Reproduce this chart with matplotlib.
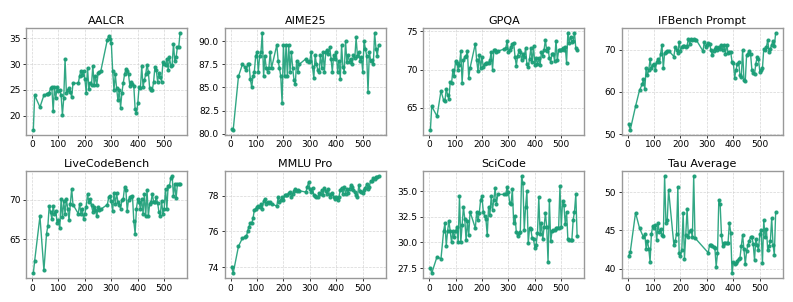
import matplotlib
matplotlib.use("Agg")
import matplotlib.pyplot as plt

# checkpoint steps (same for every benchmark except Tau)
steps = [5, 10, 30, 45, 55, 60, 65, 70, 75, 80, 85, 90, 95, 100, 105, 110, 115, 120, 125, 130, 135, 140, 145, 150, 155,
         175, 180, 185, 190, 195, 200, 205, 210, 215, 220, 225, 230, 235, 240, 245, 250, 255, 260,
         285, 290, 295, 300, 305, 310, 315, 320, 325, 330, 335, 340, 345, 350, 355, 360, 365, 370, 375, 380,
         385, 390, 395, 400, 405, 410, 415, 420, 425, 430, 435, 440, 445, 450, 455, 460, 465, 470, 475, 480,
         485, 490, 495, 500, 505, 510, 515, 520, 525, 530, 535, 540, 545, 550, 555, 560]

tau_steps = [5, 10, 30, 45, 60, 65, 70, 75, 80, 85, 90, 95, 100, 105, 110, 115, 120, 125, 130, 135, 140, 145, 150, 155,
             175, 180, 185, 190, 195, 200, 205, 210, 215, 220, 225, 230, 235, 240, 245, 250, 255,
             305, 310, 315, 320, 325, 330, 335, 340, 345, 350, 355, 360, 365, 370, 375, 380, 385, 390, 395, 400,
             405, 410, 415, 420, 425, 430, 435, 440, 445, 450, 455, 460, 465, 470, 475, 480, 485, 490, 495, 500,
             505, 510, 515, 520, 525, 530, 535, 540, 545, 550, 555, 560]

aalcr = [17.3, 24.0, 21.7, 24.0, 24.2, 24.3, 24.5, 25.3, 25.5, 20.9, 25.6, 23.5, 25.6, 24.9, 25.0, 24.0, 20.2, 23.4,
         31.0, 24.5, 25.0, 25.3, 24.7, 23.6, 26.3,
         26.3, 27.7, 28.7, 27.9, 28.7, 27.1, 24.5, 29.3, 25.1, 26.4, 26.0, 29.7, 26.0, 27.7, 25.9, 28.3, 28.5, 28.6,
         34.7, 35.4, 34.9, 34.0, 28.7, 25.0, 28.0, 25.3, 23.0, 25.0,
         21.6, 24.5, 26.3, 28.0, 29.0, 28.6, 28.0, 25.8, 26.6, 26.2,
         25.8, 21.3, 20.5, 22.4, 25.6, 25.3, 29.6, 25.6, 26.9, 28.0,
         29.9, 28.5, 25.3, 25.0, 25.0, 26.6, 29.5, 28.9, 26.6, 28.2,
         27.5, 26.6, 30.3, 30.0, 29.8, 31.0, 28.9, 31.3, 29.6, 29.8,
         33.9, 30.6, 31.3, 33.3, 33.3, 36.0]

aime25 = [80.5, 80.4, 86.2, 87.5, 87.2, 86.9, 87.5, 87.5, 85.9, 85.0, 86.2, 86.7, 88.4, 88.8, 86.7, 88.4, 88.8, 90.9,
          86.2, 88.4, 87.1, 86.7, 87.1, 88.8, 87.1,
          89.6, 87.9, 87.1, 86.2, 83.3, 89.6, 86.2, 89.6, 86.2, 89.6, 86.7, 88.8, 87.1, 85.8, 85.4, 87.9, 86.7, 87.5,
          88.1, 87.9, 87.7, 87.9, 88.8, 87.2, 86.0, 88.5, 87.5, 86.9,
          86.7, 88.5, 87.1, 88.8, 86.7, 88.8, 89.1, 88.6, 89.4, 88.1,
          86.7, 88.5, 88.1, 88.8, 86.7, 87.9, 85.9, 89.6, 87.2, 86.7,
          90.0, 87.7, 88.5, 87.7, 88.1, 87.5, 88.5, 88.2, 90.4, 88.4,
          88.8, 87.9, 88.3, 86.7, 90.0, 89.2, 88.4, 84.5, 88.8, 87.9,
          88.0, 87.5, 90.9, 89.2, 88.4, 89.6]

gpqa = [62.1, 65.2, 63.9, 67.2, 66.0, 65.9, 67.5, 66.7, 66.1, 68.4, 68.2, 69.9, 69.2, 71.1, 70.8, 70.0, 70.6, 72.4,
        68.3, 71.2, 71.6, 71.8, 72.4, 68.9, 70.2,
        73.4, 71.2, 69.8, 71.9, 70.2, 71.6, 70.4, 70.7, 70.8, 70.9, 70.9, 71.2, 72.3, 70.0, 72.5, 72.5, 72.3, 72.4,
        72.7, 72.8, 73.7, 72.3, 72.6, 73.0, 73.4, 73.5, 71.7, 70.5,
        71.8, 72.5, 72.3, 71.2, 72.1, 71.6, 72.8, 70.7, 70.3, 71.4,
        72.8, 71.0, 73.1, 70.6, 71.5, 70.7, 71.5, 70.6, 72.3, 71.8,
        72.6, 73.9, 72.4, 72.8, 71.5, 71.0, 72.1, 72.1, 71.1, 73.8,
        71.2, 72.5, 72.5, 72.6, 72.8, 72.5, 73.0, 70.9, 74.8, 73.5,
        74.3, 73.6, 73.8, 74.8, 72.8, 72.5]

ifbench = [52.3, 51.0, 56.6, 60.4, 61.8, 63.0, 60.7, 65.6, 64.0, 65.2, 67.7, 65.6, 66.3, 66.7, 65.2, 67.1, 67.9, 67.1,
           69.1, 71.2, 65.6, 69.2, 69.5, 69.8, 69.8,
           68.4, 70.6, 70.0, 69.2, 71.8, 69.8, 70.6, 70.8, 71.0, 70.6, 71.0, 72.6, 71.4, 72.6, 72.4, 72.5, 72.3, 72.3,
           69.7, 71.8, 70.6, 71.2, 71.6, 71.4, 70.0, 68.7, 69.8, 70.2,
           70.6, 70.0, 70.6, 70.2, 71.2, 70.0, 71.2, 69.1, 71.2, 69.2,
           69.5, 69.5, 67.1, 66.9, 63.4, 65.2, 66.7, 67.1, 64.0, 63.5,
           70.0, 62.8, 62.5, 68.7, 69.1, 69.8, 69.1, 65.3, 64.5, 64.2,
           66.7, 68.3, 67.9, 64.8, 65.3, 65.6, 70.2, 70.0, 70.6, 72.3,
           69.5, 70.2, 71.2, 72.0, 70.8, 74.0]

livecodebench = [60.75, 62.3, 67.9, 61.1, 65.75, 66.7, 69.2, 68.5, 67.6, 69.2, 68.25, 68.6, 67.1, 67.4, 66.4, 70.1,
                 67.8, 69.8, 68.25, 70.1, 68.9, 67.4, 69.5, 71.4, 69.4,
                 68.25, 69.5, 68.25, 68.9, 67.6, 68.25, 69.1, 70.75, 69.7, 70.1, 69.3, 68.5, 69.1, 68.7, 67.9, 69.1,
                 68.75, 68.8,
                 69.4, 70.3, 70.5, 69.8, 68.6, 70.8, 69.5, 70.8, 69.7, 69.4,
                 68.9, 70.0, 70.1, 71.6, 71.25, 68.6, 70.0, 70.3, 70.4, 70.5,
                 67.3, 65.75, 68.9, 70.1, 69.7, 68.9, 70.1, 68.25, 70.75, 67.9,
                 71.25, 67.9, 69.5, 69.7, 70.75, 69.7, 69.7, 70.3, 69.6, 68.5,
                 68.0, 69.9, 68.25, 68.9, 71.4, 68.9, 71.8, 71.8, 72.75, 73.0,
                 70.5, 72.0, 70.2, 72.0, 72.0, 72.0]

mmlu_pro = [74.04, 73.67, 75.17, 75.63, 75.7, 75.72, 76.05, 76.27, 76.5, 76.46, 76.73, 77.2, 77.28, 77.34, 77.41,
            77.34, 77.56, 77.28, 77.7, 77.83, 77.56, 77.65, 77.6, 77.65, 77.56,
            77.41, 77.93, 77.65, 77.74, 77.93, 77.74, 78.02, 78.05, 78.02, 78.15, 78.2, 77.93, 78.11, 78.29, 78.39,
            78.29, 78.3, 78.28,
            78.2, 78.48, 78.75, 78.39, 78.2, 78.44, 78.02, 78.0, 77.93, 77.93,
            78.15, 78.11, 78.33, 78.02, 78.44, 78.29, 78.11, 78.39, 77.93, 78.11,
            78.15, 77.93, 77.83, 77.93, 77.74, 77.93, 78.33, 78.44, 78.11, 78.48,
            78.11, 78.39, 78.15, 78.39, 78.57, 78.51, 78.33, 78.2, 78.02, 77.93,
            78.57, 78.29, 78.2, 78.15, 78.33, 78.44, 78.66, 78.39, 78.51, 78.84,
            78.8, 78.99, 78.94, 79.06, 79.05, 79.1]

scicode = [27.5, 27.0, 28.6, 28.4, 31.1, 31.9, 29.7, 31.1, 32.1, 31.1, 30.0, 31.1, 30.5, 31.1, 31.5, 30.0, 34.5, 30.0,
           31.7, 33.5, 32.3, 30.2, 32.1, 30.7, 33.0,
           31.4, 33.0, 32.2, 32.9, 34.2, 34.5, 33.0, 32.6, 32.3, 30.7, 33.5, 32.7, 34.5, 33.2, 34.2, 35.3, 33.8, 34.7,
           34.7, 34.7, 35.4, 34.9, 33.9, 33.8, 35.2, 31.9, 32.6, 31.0,
           30.6, 30.9, 31.0, 36.5, 35.8, 31.2, 33.5, 35.0, 29.9, 31.4,
           31.3, 30.4, 30.3, 29.5, 29.8, 30.9, 34.4, 30.8, 31.9, 30.3,
           31.5, 32.9, 31.5, 28.1, 34.2, 30.1, 31.1, 31.2, 31.2, 31.4,
           31.4, 31.4, 35.5, 31.5, 34.1, 33.7, 31.8, 33.0, 30.3, 30.2,
           30.2, 30.2, 32.2, 33.0, 34.7, 30.6]

tau_average = [41.7, 42.15, 47.3, 45.3, 44.1, 44.5, 42.6, 43.6, 42.6, 40.9, 44.5, 45.6, 45.3, 45.7, 43.7, 45.9, 44.8,
               45.15, 44.4, 44.3, 52.1, 46.0, 46.35, 50.3,
               43.1, 43.6, 44.5, 50.7, 42.0, 41.7, 42.4, 47.3, 41.3, 44.4, 47.85, 44.1, 44.85, 45.0, 44.1, 52.1, 44.0,
               42.06, 43.1, 43.1, 43.0, 42.8, 42.7, 40.26, 42.0, 49.0, 48.4,
               44.4, 42.9, 43.35, 43.4, 43.4, 43.4, 46.0, 44.7, 39.4, 40.86,
               40.6, 40.7, 41.0, 41.3, 41.4, 42.9, 44.4, 42.5, 40.56, 42.27,
               43.1, 43.6, 44.1, 44.1, 43.26, 41.1, 43.9, 43.1, 42.4, 44.5,
               45.0, 40.7, 46.3, 44.1, 45.15, 42.4, 42.9, 43.6, 46.6, 43.1, 41.8, 47.4]

titles = ["AALCR", "AIME25", "GPQA", "IFBench Prompt", "LiveCodeBench", "MMLU Pro", "SciCode", "Tau Average"]
series = [aalcr, aime25, gpqa, ifbench, livecodebench, mmlu_pro, scicode, tau_average]
xs = [steps] * 7 + [tau_steps]

color = "#1b9e77"

fig, axes = plt.subplots(2, 4, figsize=(7.93, 3.02), dpi=100)
fig.subplots_adjust(left=26 / 793, right=783 / 793, top=1 - 28 / 302, bottom=1 - 278 / 302,
                    wspace=0.23, hspace=0.34)

for ax, title, x, y in zip(axes.flat, titles, xs, series):
    ax.plot(x, y, color=color, lw=1.0, alpha=0.9, marker="o", markersize=2.0)
    ax.set_title(title, fontsize=8, pad=3)
    ax.grid(True, linestyle="--", linewidth=0.5, color="#cccccc", alpha=0.8)
    ax.set_xticks([0, 100, 200, 300, 400, 500])
    ax.tick_params(labelsize=6.5, length=2.5, width=0.7, pad=1.5, color="#333333")
    for s in ax.spines.values():
        s.set_color("#999999")
        s.set_linewidth(1.0)

axes[0, 1].yaxis.set_major_formatter(plt.FormatStrFormatter("%.1f"))
axes[1, 2].yaxis.set_major_formatter(plt.FormatStrFormatter("%.1f"))

fig.savefig("out.png", dpi=100)
